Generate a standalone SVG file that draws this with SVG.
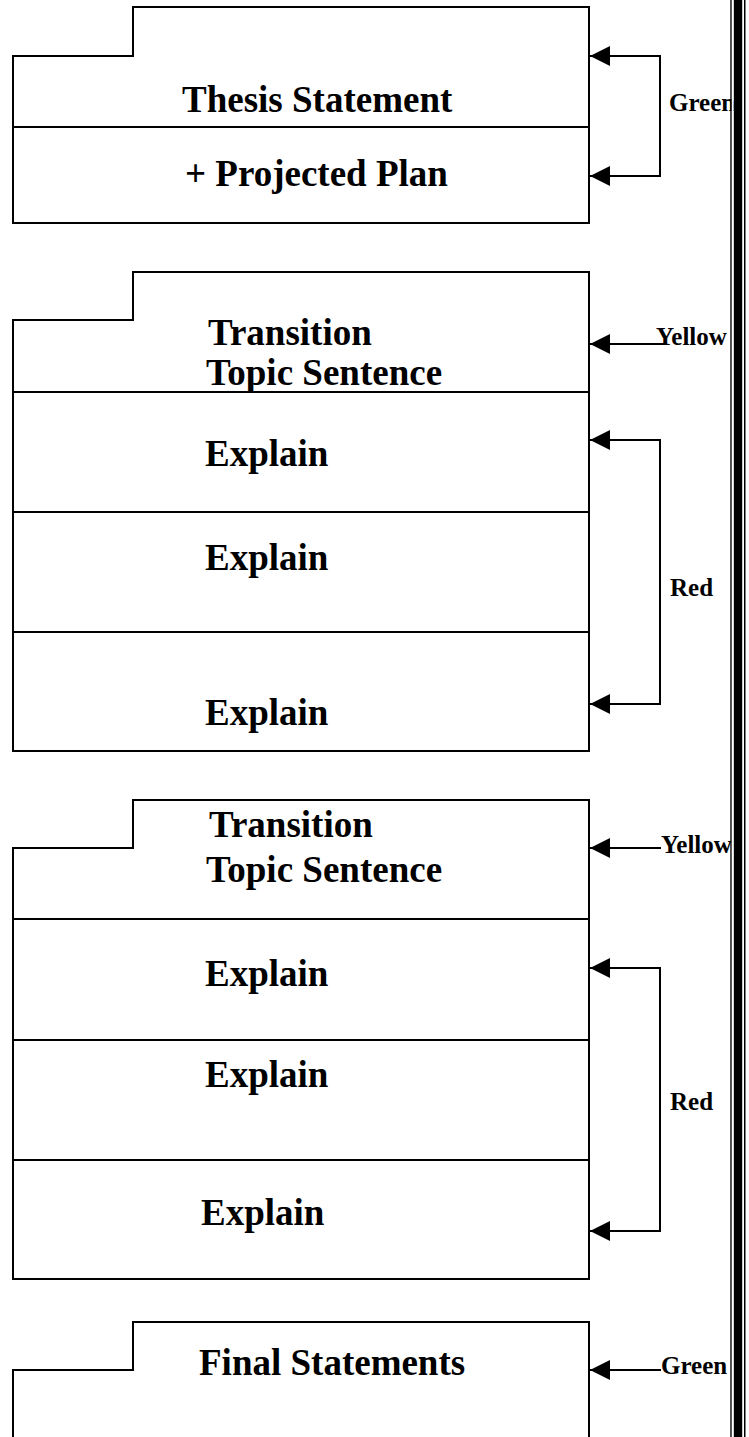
<svg xmlns="http://www.w3.org/2000/svg" width="749" height="1437" viewBox="0 0 749 1437">
  <defs>
    <style>
      .box { fill: none; stroke: #000; stroke-width: 2; stroke-linejoin: miter; }
      .rule { stroke: #000; stroke-width: 2; }
      .link { fill: none; stroke: #000; stroke-width: 2; }
      .main { font-family: "Liberation Serif", "Times New Roman", serif; font-weight: bold; font-size: 37px; fill: #000; }
      .tag { font-family: "Liberation Serif", "Times New Roman", serif; font-weight: bold; font-size: 25px; fill: #000; }
    </style>
    <marker id="head" viewBox="0 0 20 20" refX="20" refY="10" markerWidth="20" markerHeight="20" markerUnits="userSpaceOnUse" orient="auto">
      <path d="M0,0 L20,10 L0,20 Z" fill="#000"/>
    </marker>
  </defs>
  <rect width="749" height="1437" fill="#fff"/>

  <!-- page border on the right: thin / thick / thin -->
  <g id="border">
    <rect x="730.3" y="0" width="1.5" height="1437" fill="#000"/>
    <rect x="733.6" y="0" width="8.6" height="1437" fill="#000"/>
    <rect x="744" y="0" width="1.5" height="1437" fill="#000"/>
  </g>

  <!-- introduction -->
  <g id="intro">
    <path class="box" d="M13,223 V56 H133 V7 H589 V223 Z"/>
    <line class="rule" x1="13" y1="127" x2="589" y2="127"/>
    <text class="main" x="182" y="112">Thesis Statement</text>
    <text class="main" x="185" y="186">+ Projected Plan</text>
  </g>

  <!-- first body paragraph -->
  <g id="body1">
    <path class="box" d="M13,751 V320 H133 V272 H589 V751 Z"/>
    <line class="rule" x1="13" y1="392" x2="589" y2="392"/>
    <line class="rule" x1="13" y1="512" x2="589" y2="512"/>
    <line class="rule" x1="13" y1="632" x2="589" y2="632"/>
    <text class="main" x="208" y="345">Transition</text>
    <text class="main" x="206" y="385">Topic Sentence</text>
    <text class="main" x="205" y="466">Explain</text>
    <text class="main" x="205" y="570">Explain</text>
    <text class="main" x="205" y="725">Explain</text>
  </g>

  <!-- second body paragraph -->
  <g id="body2">
    <path class="box" d="M13,1279 V848 H133 V800 H589 V1279 Z"/>
    <line class="rule" x1="13" y1="919" x2="589" y2="919"/>
    <line class="rule" x1="13" y1="1040" x2="589" y2="1040"/>
    <line class="rule" x1="13" y1="1160" x2="589" y2="1160"/>
    <text class="main" x="209" y="837">Transition</text>
    <text class="main" x="206" y="882">Topic Sentence</text>
    <text class="main" x="205" y="986">Explain</text>
    <text class="main" x="205" y="1087">Explain</text>
    <text class="main" x="201" y="1225">Explain</text>
  </g>

  <!-- conclusion -->
  <g id="conclusion">
    <path class="box" d="M13,1440 V1370 H133 V1322 H589 V1440"/>
    <text class="main" x="199" y="1375">Final Statements</text>
  </g>

  <!-- colour-key connectors -->
  <g id="connectors">
    <path class="link" d="M610,56 H660 V176 H610"/>
    <line class="link" x1="660" y1="56" x2="590" y2="56" marker-end="url(#head)"/>
    <line class="link" x1="660" y1="176" x2="590" y2="176" marker-end="url(#head)"/>
    <text class="tag" x="669" y="111">Green</text>

    <line class="link" x1="664" y1="344" x2="590" y2="344" marker-end="url(#head)"/>
    <text class="tag" x="656" y="345">Yellow</text>

    <path class="link" d="M610,440 H660 V704 H610"/>
    <line class="link" x1="660" y1="440" x2="590" y2="440" marker-end="url(#head)"/>
    <line class="link" x1="660" y1="704" x2="590" y2="704" marker-end="url(#head)"/>
    <text class="tag" x="670" y="596">Red</text>

    <line class="link" x1="661" y1="848" x2="590" y2="848" marker-end="url(#head)"/>
    <text class="tag" x="661" y="853">Yellow</text>

    <path class="link" d="M610,968 H660 V1231 H610"/>
    <line class="link" x1="660" y1="968" x2="590" y2="968" marker-end="url(#head)"/>
    <line class="link" x1="660" y1="1231" x2="590" y2="1231" marker-end="url(#head)"/>
    <text class="tag" x="670" y="1110">Red</text>

    <line class="link" x1="661" y1="1370" x2="590" y2="1370" marker-end="url(#head)"/>
    <text class="tag" x="661" y="1374">Green</text>
  </g>

  <!-- keep the key labels from running into the border -->
  <rect x="731.8" y="0" width="1.8" height="1437" fill="#fff"/>
</svg>
